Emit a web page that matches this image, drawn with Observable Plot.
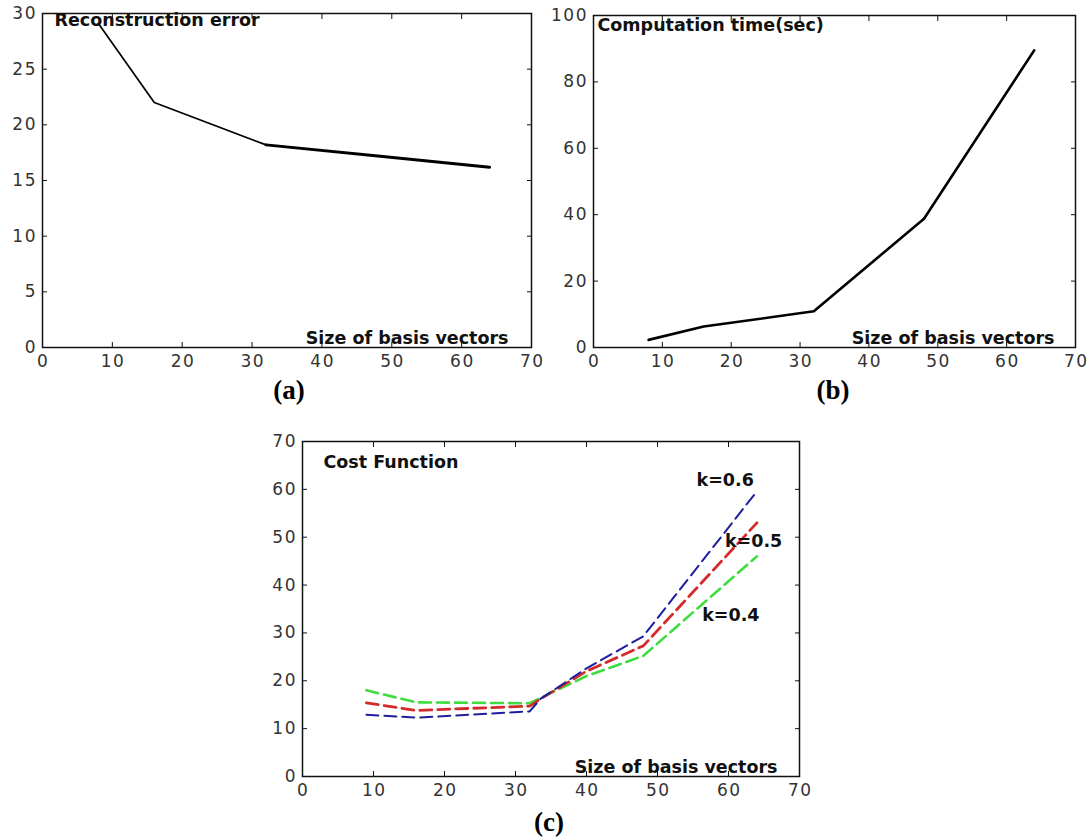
<!DOCTYPE html>
<html><head><meta charset="utf-8">
<script src="https://cdn.jsdelivr.net/npm/d3@7"></script>
<script src="https://cdn.jsdelivr.net/npm/@observablehq/plot@0.6"></script>
<style>
body{margin:0;background:#fff;}
#page{position:relative;width:1091px;height:838px;background:#fff;overflow:hidden;}
.panel{position:absolute;}
.panel svg{overflow:visible;}
.panel svg g[aria-label="x-axis tick label"] text,
.panel svg g[aria-label="y-axis tick label"] text{letter-spacing:1.5px;}
.cap{position:absolute;font-family:"Liberation Serif",serif;font-weight:bold;font-size:27px;line-height:27px;transform:translateX(-50%);white-space:nowrap;color:#000;}
</style></head><body><div id="page"></div>
<script>
// ---- data ----
const xTicks = [0, 10, 20, 30, 40, 50, 60, 70];
const yTicksA = [0, 5, 10, 15, 20, 25, 30];
const yTicksB = [0, 20, 40, 60, 80, 100];
const yTicksC = [0, 10, 20, 30, 40, 50, 60, 70];

const basisSizes = [8, 16, 32, 48, 64];
const reconError = [29.1, 22.0, 18.2, 17.2, 16.2];
const compTime = [2.3, 6.3, 10.9, 38.8, 89.5];

const costSizes = [9, 16, 32, 33.5, 40, 48, 64];
const costK06 = [12.9, 12.3, 13.6, 16.2, 22.6, 29.3, 59.6];
const costK05 = [15.4, 13.8, 14.7, 16.2, 22.0, 27.3, 53.0];
const costK04 = [18.0, 15.5, 15.3, 16.4, 21.0, 25.2, 46.0];

const kLabels = ["k=0.6", "k=0.5", "k=0.4"];
const kLabelX = [55.5, 59.5, 56.3];
const kLabelY = [61.9, 49.1, 33.7];

const xLabel = "Size of basis vectors";
const titleA = "Reconstruction error";
const titleB = "Computation time(sec)";
const titleC = "Cost Function";

// ---- helpers ----
const page = document.getElementById("page");
const toRows = (xs, ys) => xs.map((x, i) => ({x, y: ys[i]}));
const TL = 5; // inward tick length (px)

function frameMarks(yTicks) {
  const tickStyle = {fill: "none", stroke: "#111", strokeWidth: 1, label: null, tickSize: TL};
  const labelStyle = {tickSize: 0, fill: "#333", label: null, fontSize: 17};
  return [
    Plot.frame({stroke: "#111", strokeWidth: 1.5}),
    Plot.axisX(xTicks, {anchor: "bottom", dy: -TL, ...tickStyle}),
    Plot.axisX(xTicks, {anchor: "top", dy: TL, ...tickStyle}),
    Plot.axisY(yTicks, {anchor: "left", dx: TL, ...tickStyle}),
    Plot.axisY(yTicks, {anchor: "right", dx: -TL, ...tickStyle}),
    Plot.axisX(xTicks, {anchor: "bottom", tickPadding: 7, dx: 0.75, ...labelStyle}),
    Plot.axisY(yTicks, {anchor: "left", tickPadding: 5.5, ...labelStyle})
  ];
}

const boldText = {fontWeight: "bold", fontSize: 17.5, fill: "#111", fontFamily: "DejaVu Sans"};

function addPanel(left, top, opts, marks, yTicks, yDomain) {
  const svg = Plot.plot({
    ...opts,
    style: {fontFamily: "DejaVu Sans", fontSize: "17px", background: "transparent", color: "#222"},
    x: {domain: [0, 70], label: null},
    y: {domain: yDomain, label: null},
    marks: [...marks, ...frameMarks(yTicks)]
  });
  const div = document.createElement("div");
  div.className = "panel";
  div.style.left = left + "px";
  div.style.top = top + "px";
  div.appendChild(svg);
  page.appendChild(div);
}

function addCaption(text, cx, top) {
  const d = document.createElement("div");
  d.className = "cap";
  d.textContent = text;
  d.style.left = cx + "px";
  d.style.top = top + "px";
  page.appendChild(d);
}

// ---- panel (a) ----
const recRows = toRows(basisSizes, reconError);
addPanel(0, 0,
  {width: 548, height: 378, marginLeft: 42, marginRight: 17, marginTop: 13, marginBottom: 31},
  [
    Plot.line(recRows.filter(d => d.x <= 32), {x: "x", y: "y", stroke: "#000", strokeWidth: 1.7}),
    Plot.line(recRows.filter(d => d.x >= 32), {x: "x", y: "y", stroke: "#000", strokeWidth: 3}),
    Plot.text([titleA], {text: d => d, frameAnchor: "top-left", textAnchor: "start", lineAnchor: "top", dx: 12, dy: 0, ...boldText}),
    Plot.text([xLabel], {text: d => d, frameAnchor: "bottom-right", textAnchor: "end", lineAnchor: "bottom", dx: -23, dy: -4, ...boldText})
  ], yTicksA, [0, 30]);

// ---- panel (b) ----
addPanel(550, 0,
  {width: 541, height: 378, marginLeft: 43, marginRight: 16, marginTop: 15, marginBottom: 31},
  [
    Plot.line(toRows(basisSizes, compTime), {x: "x", y: "y", stroke: "#000", strokeWidth: 2.6}),
    Plot.text([titleB], {text: d => d, frameAnchor: "top-left", textAnchor: "start", lineAnchor: "top", dx: 4, dy: 3, ...boldText}),
    Plot.text([xLabel], {text: d => d, frameAnchor: "bottom-right", textAnchor: "end", lineAnchor: "bottom", dx: -21, dy: -4, ...boldText})
  ], yTicksB, [0, 100]);

// ---- panel (c) ----
const dash = "12,6";
addPanel(258, 420,
  {width: 560, height: 380, marginLeft: 44, marginRight: 19, marginTop: 21, marginBottom: 24},
  [
    Plot.line(toRows(costSizes, costK04), {x: "x", y: "y", stroke: "#3fdc3f", strokeWidth: 2.6, strokeDasharray: dash}),
    Plot.line(toRows(costSizes, costK05), {x: "x", y: "y", stroke: "#d42a2a", strokeWidth: 2.8, strokeDasharray: dash}),
    Plot.line(toRows(costSizes, costK06), {x: "x", y: "y", stroke: "#1e1e9e", strokeWidth: 2, strokeDasharray: dash}),
    Plot.text(kLabels.map((t, i) => ({t, x: kLabelX[i], y: kLabelY[i]})), {x: "x", y: "y", text: "t", textAnchor: "start", lineAnchor: "middle", ...boldText}),
    Plot.text([titleC], {text: d => d, frameAnchor: "top-left", textAnchor: "start", lineAnchor: "top", dx: 21, dy: 14, ...boldText}),
    Plot.text([xLabel], {text: d => d, frameAnchor: "bottom-right", textAnchor: "end", lineAnchor: "bottom", dx: -22, dy: -4, ...boldText})
  ], yTicksC, [0, 70]);

// ---- captions ----
addCaption("(a)", 289, 377);
addCaption("(b)", 833, 377);
addCaption("(c)", 549, 809);
</script>
</body></html>
